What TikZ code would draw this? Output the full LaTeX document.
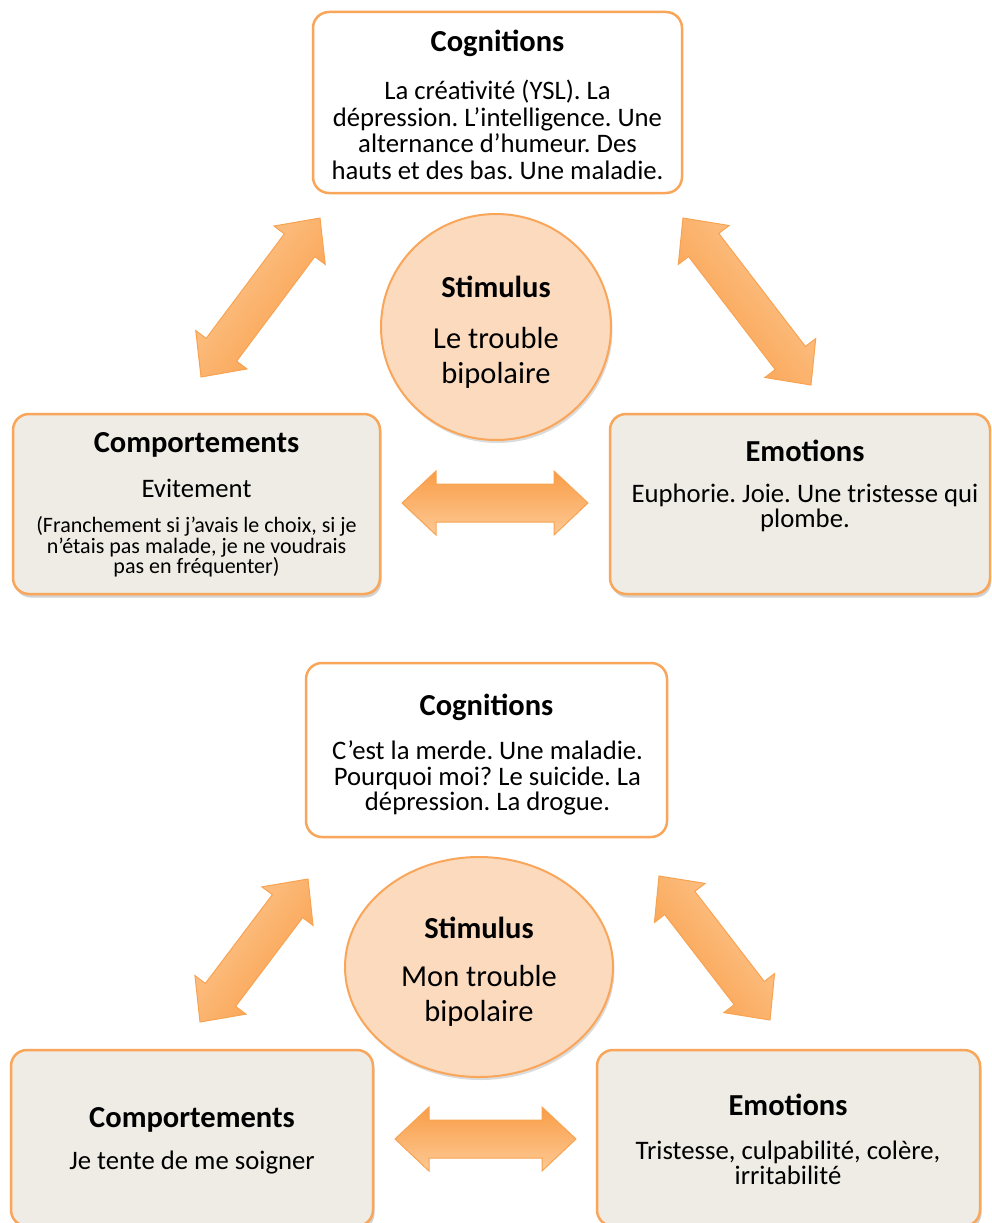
\documentclass[tikz,border=0pt]{standalone}
\usepackage{fontspec}
\setmainfont{Carlito}
\frenchspacing
\usetikzlibrary{calc,shadows,shapes.geometric}
\definecolor{bord}{HTML}{F9A65A}
\definecolor{boxfill}{HTML}{EEECE4}
\definecolor{circfill}{HTML}{FBDABE}
\definecolor{arrdark}{HTML}{F99D47}
\definecolor{arrlight}{HTML}{FDC994}
\definecolor{arrline}{HTML}{F8A352}
\tikzset{
  cbox/.style={draw=bord, line width=2.5pt, rounded corners=16pt, fill=white, rectangle, inner sep=0pt},
  gbox/.style={cbox, fill=boxfill, drop shadow={shadow xshift=1.5pt, shadow yshift=-3.5pt, opacity=0.25, fill=black!70}},
  stim/.style={ellipse, draw=bord, line width=2pt, fill=circfill, inner sep=0pt, drop shadow={shadow xshift=1.5pt, shadow yshift=-3pt, opacity=0.2, fill=black!70}},
  ttl/.style={font=\fontsize{30.5}{34}\selectfont\bfseries, inner sep=0pt},
  bdy/.style={font=\fontsize{26.7}{26.5}\selectfont, align=center, inner sep=0pt},
  sbdy/.style={font=\fontsize{22}{20.5}\selectfont, align=center, inner sep=0pt},
  cbdy/.style={font=\fontsize{30.5}{35}\selectfont, align=center, inner sep=0pt},
  arrowshape/.style={draw=arrline, line width=1pt, line join=miter},
}
\newcommand\blockarrow[3]{%
  \path[arrowshape,#1] (#2)
    -- ($(#2)!34pt!(#3)!32pt!90:(#3)$) -- ($(#2)!34pt!(#3)!19pt!90:(#3)$)
    -- ($(#3)!34pt!(#2)!19pt!-90:(#2)$) -- ($(#3)!34pt!(#2)!32pt!-90:(#2)$)
    -- (#3)
    -- ($(#3)!34pt!(#2)!32pt!90:(#2)$) -- ($(#3)!34pt!(#2)!19pt!90:(#2)$)
    -- ($(#2)!34pt!(#3)!19pt!-90:(#3)$) -- ($(#2)!34pt!(#3)!32pt!-90:(#3)$)
    -- cycle;}
\begin{document}
\begin{tikzpicture}[x=1pt,y=-1pt]
\useasboundingbox (0,0) rectangle (991,1223);
\clip (0,0) rectangle (991,1223);
\fill[white] (0,0) rectangle (991,1223);

% ---------- top diagram ----------
\node[cbox, minimum width=369pt, minimum height=181pt] (cog1) at (497.5,102.5) {};
\node[gbox, minimum width=367pt, minimum height=180pt] (comp1) at (196.5,504) {};
\node[gbox, minimum width=380pt, minimum height=180pt] (emo1) at (800,504) {};
\node[stim, minimum width=230pt, minimum height=226pt] (circ1) at (496,327) {};

\node[ttl] (cog1t) at (497.5,43) {Cognitions};
\node[bdy] (cog1b) at (497.5,130) {La créativité (YSL). La\\dépression. L’intelligence. Une\\alternance d’humeur. Des\\hauts et des bas. Une maladie.};
\node[ttl] (circ1t) at (496,287) {Stimulus};
\node[cbdy] (circ1b) at (496,357.5) {Le trouble\\bipolaire};
\node[ttl] (comp1t) at (196.5,445) {Comportements};
\node[bdy] (comp1b) at (196.5,488) {Evitement};
\node[sbdy] (comp1s) at (196.5,547) {(Franchement si j’avais le choix, si je\\n’étais pas malade, je ne voudrais\\pas en fréquenter)};
\node[ttl] (emo1t) at (805,451) {Emotions};
\node[bdy, font=\fontsize{26.7}{25}\selectfont] (emo1b) at (805,507.5) {Euphorie. Joie. Une tristesse qui\\plombe.};

\coordinate (a1s) at (201,377); \coordinate (a1e) at (320,218);
\coordinate (a2s) at (683,218); \coordinate (a2e) at (811,385);
\coordinate (a3s) at (402,503); \coordinate (a3e) at (588,503);
\blockarrow{top color=arrlight, bottom color=arrdark, shading angle=53}{a1s}{a1e}
\blockarrow{top color=arrlight, bottom color=arrdark, shading angle=-52}{a2s}{a2e}
\blockarrow{top color=arrdark, bottom color=arrlight}{a3s}{a3e}

% ---------- bottom diagram ----------
\node[cbox, minimum width=361pt, minimum height=174pt] (cog2) at (486.5,750) {};
\node[gbox, minimum width=362pt, minimum height=176pt] (comp2) at (192,1138) {};
\node[gbox, minimum width=383pt, minimum height=176pt] (emo2) at (788.5,1138) {};
\node[stim, minimum width=268pt, minimum height=220pt] (circ2) at (479,967) {};

\node[ttl] (cog2t) at (486.5,707) {Cognitions};
\node[bdy, font=\fontsize{26.7}{25.5}\selectfont] (cog2b) at (487.5,778) {C’est la merde. Une maladie.\\Pourquoi moi? Le suicide. La\\dépression. La drogue.};
\node[ttl] (circ2t) at (479,928) {Stimulus};
\node[cbdy] (circ2b) at (479,995.5) {Mon trouble\\bipolaire};
\node[ttl] (comp2t) at (192,1120) {Comportements};
\node[bdy] (comp2b) at (192,1163) {Je tente de me soigner};
\node[ttl] (emo2t) at (788,1105) {Emotions};
\node[bdy, font=\fontsize{26.7}{25}\selectfont] (emo2b) at (788,1162.5) {Tristesse, culpabilité, colère,\\irritabilité};

\coordinate (b1s) at (200,1022); \coordinate (b1e) at (308,879);
\coordinate (b2s) at (659,876); \coordinate (b2e) at (770,1020);
\coordinate (b3s) at (395,1139); \coordinate (b3e) at (576,1139);
\blockarrow{top color=arrlight, bottom color=arrdark, shading angle=53}{b1s}{b1e}
\blockarrow{top color=arrlight, bottom color=arrdark, shading angle=-52}{b2s}{b2e}
\blockarrow{top color=arrdark, bottom color=arrlight}{b3s}{b3e}
\end{tikzpicture}
\end{document}
